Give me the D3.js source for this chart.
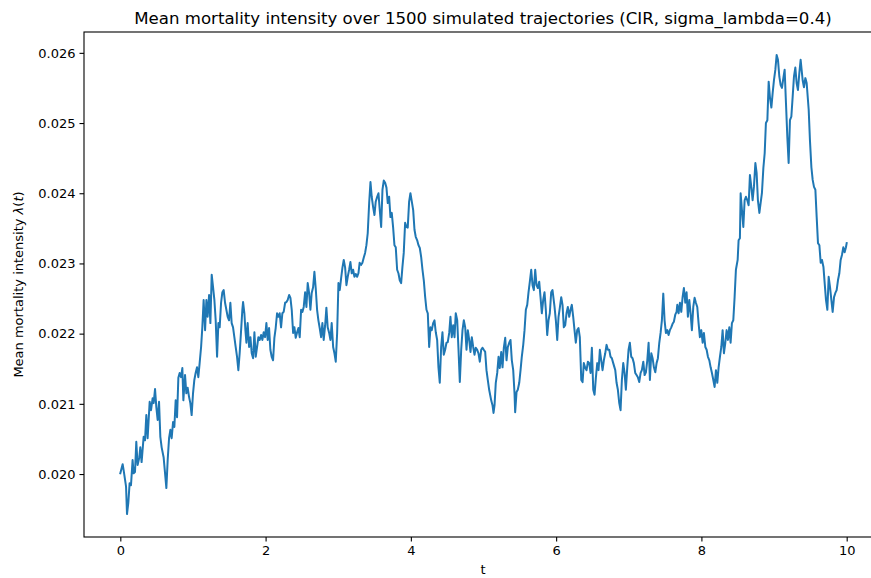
<!DOCTYPE html>
<html>
<head>
<meta charset="utf-8">
<script src="https://cdn.jsdelivr.net/npm/d3@7"></script>
<style>
  body { margin: 0; background: #fff; }
  svg { display: block; font-family: "DejaVu Sans", sans-serif; }
  .tick text { font-size: 13px; fill: #000; }
  .tick line, .domain { stroke: #000; stroke-width: 1.1px; }
</style>
</head>
<body>
<div id="chart"></div>
<script>
// time grid (years)
var tValues = [
  // 0 - 0.8
  0.000,0.032,0.045,0.079,0.092,0.110,0.128,0.147,0.169,0.183,
  0.202,0.220,0.238,0.262,0.275,0.293,0.321,0.340,0.358,0.376,
  0.404,0.423,0.445,0.459,0.478,0.496,0.514,0.533,0.551,0.569,
  0.596,0.616,0.634,0.652,0.671,0.689,0.707,0.726,0.744,0.762,
  0.781,0.799,0.817,
  // 0.8 - 1.7
  0.836,0.854,0.868,0.891,0.909,0.927,0.946,0.964,0.982,1.001,
  1.019,1.037,1.056,1.074,1.092,1.112,1.129,1.147,1.167,1.185,
  1.202,1.222,1.240,1.258,1.277,1.295,1.313,1.332,1.350,1.368,
  1.387,1.405,1.423,1.442,1.460,1.478,1.497,1.515,1.533,1.552,
  1.570,1.588,1.607,1.625,1.643,1.663,1.680,
  // 1.7 - 2.5
  1.690,1.708,1.722,1.736,1.753,1.773,1.791,1.809,1.828,1.846,
  1.864,1.883,1.901,1.919,1.938,1.956,1.974,1.993,2.011,2.029,
  2.048,2.066,2.084,2.103,2.121,2.139,2.158,2.176,2.194,2.213,
  2.231,2.249,2.269,2.287,2.304,2.324,2.342,2.360,2.379,2.397,
  2.415,2.434,2.452,2.470,2.489,2.507,
  // 2.5 - 3.4
  2.525,2.544,2.562,2.580,2.599,2.617,2.635,2.654,2.672,2.690,
  2.709,2.727,2.745,2.764,2.782,2.800,2.820,2.837,2.855,2.875,
  2.893,2.910,2.930,2.948,2.966,2.985,3.003,3.021,3.040,3.058,
  3.076,3.095,3.113,3.131,3.150,3.168,3.186,3.205,3.223,3.241,
  3.260,3.278,3.295,3.316,3.333,3.351,3.370,3.388,
  // 3.4 - 4.2
  3.406,3.426,3.444,3.461,3.481,3.499,3.516,3.536,3.554,3.572,
  3.591,3.609,3.627,3.646,3.664,3.682,3.701,3.719,3.737,3.756,
  3.774,3.792,3.811,3.829,3.847,3.866,3.884,3.902,3.921,3.939,
  3.957,3.976,3.994,4.013,4.032,4.050,4.067,4.087,4.105,4.123,
  4.142,4.160,4.178,4.197,
  // 4.2 - 5.1
  4.215,4.233,4.252,4.270,4.288,4.307,4.325,4.343,4.362,4.380,
  4.398,4.417,4.435,4.453,4.472,4.490,4.508,4.528,4.545,4.563,
  4.583,4.601,4.618,4.638,4.656,4.674,4.693,4.711,4.729,4.748,
  4.766,4.784,4.803,4.821,4.839,4.858,4.876,4.894,4.913,4.931,
  4.949,4.968,4.986,5.004,5.023,5.041,5.059,5.078,
  // 5.1 - 5.95
  5.106,5.124,5.138,5.152,5.169,5.189,5.207,5.224,5.244,5.262,
  5.280,5.299,5.317,5.335,5.354,5.372,5.390,5.409,5.427,5.436,
  5.455,5.472,5.492,5.510,5.527,5.547,5.565,5.583,5.602,5.620,
  5.638,5.657,5.675,5.693,5.712,5.730,5.748,5.767,5.785,5.803,
  5.822,5.840,5.858,5.877,5.895,5.913,5.932,5.950,
  // 5.95 - 6.8
  5.978,5.996,6.015,6.033,6.051,6.070,6.088,6.106,6.125,6.143,
  6.161,6.180,6.198,6.216,6.235,6.253,6.271,6.290,6.308,6.326,
  6.346,6.364,6.381,6.401,6.419,6.437,6.456,6.474,6.492,6.511,
  6.529,6.547,6.566,6.584,6.602,6.621,6.639,6.657,6.676,6.694,
  6.712,6.731,6.749,6.767,6.786,
  // 6.8 - 7.66
  6.814,6.832,6.850,6.869,6.887,6.905,6.924,6.942,6.960,6.979,
  6.997,7.015,7.034,7.052,7.070,7.089,7.107,7.125,7.144,7.163,
  7.180,7.200,7.218,7.236,7.255,7.273,7.291,7.310,7.328,7.346,
  7.365,7.383,7.401,7.420,7.438,7.456,7.475,7.493,7.511,7.530,
  7.548,7.566,7.585,7.603,7.621,7.640,7.658,
  // 7.66 - 8.5
  7.668,7.686,7.704,7.723,7.741,7.759,7.778,7.796,7.814,7.833,
  7.851,7.869,7.888,7.906,7.924,7.943,7.961,7.979,7.998,8.017,
  8.034,8.054,8.072,8.090,8.109,8.127,8.145,8.164,8.182,8.200,
  8.219,8.237,8.255,8.274,8.292,8.310,8.329,8.347,8.365,8.384,
  8.402,8.420,8.439,8.457,8.475,
  // 8.5 - 9.37
  8.499,8.512,8.530,8.540,8.558,8.577,8.595,8.613,8.632,8.650,
  8.668,8.687,8.705,8.723,8.743,8.760,8.778,8.798,8.815,8.833,
  8.853,8.871,8.888,8.908,8.926,8.943,8.963,8.981,8.999,9.018,
  9.036,9.054,9.073,9.091,9.109,9.128,9.146,9.164,9.183,9.201,
  9.219,9.238,9.256,9.274,9.293,9.311,9.329,9.348,9.366,
  // 9.37 - 10
  9.394,9.412,9.431,9.449,9.477,9.494,9.514,9.532,9.550,9.569,
  9.587,9.605,9.624,9.642,9.660,9.680,9.697,9.715,9.734,9.752,
  9.771,9.789,9.807,9.826,9.844,9.862,9.880,9.899,9.917,9.935,
  9.954,9.972,9.990,10.000
];

// mean lambda(t) over the trajectories, same order as tValues
var meanLambda = [
  0.02001,0.02014,0.02006,0.01982,0.01943,0.01959,0.01987,0.01984,0.02020,0.02001,
  0.02003,0.02046,0.02013,0.02024,0.02038,0.02017,0.02053,0.02048,0.02084,0.02051,
  0.02103,0.02091,0.02108,0.02101,0.02121,0.02095,0.02077,0.02103,0.02053,0.02038,
  0.02024,0.02001,0.01980,0.02020,0.02051,0.02063,0.02051,0.02074,0.02067,0.02105,
  0.02081,0.02137,0.02144,

  0.02138,0.02151,0.02105,0.02141,0.02115,0.02123,0.02110,0.02101,0.02084,0.02115,
  0.02134,0.02144,0.02152,0.02138,0.02158,0.02181,0.02209,0.02248,0.02205,0.02248,
  0.02224,0.02255,0.02215,0.02284,0.02266,0.02248,0.02219,0.02167,0.02215,0.02209,
  0.02244,0.02259,0.02262,0.02244,0.02234,0.02224,0.02219,0.02244,0.02215,0.02209,
  0.02195,0.02181,0.02167,0.02148,0.02172,0.02205,0.02234,

  0.02245,0.02229,0.02205,0.02187,0.02215,0.02181,0.02195,0.02172,0.02165,0.02202,
  0.02167,0.02181,0.02195,0.02191,0.02198,0.02191,0.02202,0.02195,0.02215,0.02191,
  0.02208,0.02177,0.02167,0.02162,0.02194,0.02208,0.02229,0.02224,0.02229,0.02209,
  0.02229,0.02231,0.02244,0.02245,0.02248,0.02255,0.02251,0.02234,0.02201,0.02209,
  0.02194,0.02202,0.02208,0.02195,0.02234,0.02231,

  0.02238,0.02259,0.02238,0.02272,0.02258,0.02234,0.02258,0.02266,0.02288,0.02265,
  0.02234,0.02219,0.02208,0.02195,0.02215,0.02191,0.02212,0.02237,0.02209,0.02201,
  0.02191,0.02215,0.02181,0.02172,0.02160,0.02201,0.02272,0.02262,0.02279,0.02294,
  0.02305,0.02294,0.02269,0.02281,0.02291,0.02302,0.02286,0.02291,0.02281,0.02285,
  0.02281,0.02286,0.02301,0.02298,0.02301,0.02308,0.02315,0.02326,

  0.02343,0.02386,0.02416,0.02395,0.02380,0.02369,0.02388,0.02395,0.02400,0.02376,
  0.02352,0.02405,0.02418,0.02415,0.02408,0.02386,0.02395,0.02366,0.02372,0.02351,
  0.02326,0.02323,0.02291,0.02286,0.02276,0.02272,0.02295,0.02315,0.02358,0.02352,
  0.02351,0.02388,0.02400,0.02388,0.02376,0.02348,0.02338,0.02333,0.02326,0.02322,
  0.02309,0.02291,0.02276,0.02252,

  0.02234,0.02229,0.02181,0.02209,0.02205,0.02215,0.02219,0.02202,0.02191,0.02152,
  0.02130,0.02181,0.02202,0.02170,0.02177,0.02187,0.02188,0.02201,0.02224,0.02195,
  0.02212,0.02195,0.02229,0.02219,0.02177,0.02131,0.02177,0.02205,0.02219,0.02209,
  0.02177,0.02205,0.02191,0.02174,0.02195,0.02181,0.02170,0.02180,0.02177,0.02172,
  0.02160,0.02177,0.02180,0.02177,0.02174,0.02148,0.02134,0.02120,

  0.02105,0.02098,0.02087,0.02098,0.02130,0.02144,0.02167,0.02151,0.02174,0.02152,
  0.02180,0.02194,0.02162,0.02181,0.02187,0.02191,0.02162,0.02148,0.02115,0.02088,
  0.02117,0.02120,0.02130,0.02148,0.02167,0.02184,0.02205,0.02234,0.02241,0.02259,
  0.02274,0.02291,0.02269,0.02262,0.02291,0.02269,0.02265,0.02274,0.02252,0.02229,
  0.02248,0.02259,0.02234,0.02198,0.02219,0.02229,0.02259,0.02262,

  0.02238,0.02219,0.02191,0.02224,0.02237,0.02252,0.02241,0.02209,0.02212,0.02229,
  0.02238,0.02224,0.02234,0.02241,0.02224,0.02205,0.02187,0.02205,0.02208,0.02195,
  0.02134,0.02131,0.02158,0.02151,0.02148,0.02160,0.02158,0.02144,0.02180,0.02120,
  0.02113,0.02137,0.02158,0.02148,0.02177,0.02162,0.02148,0.02162,0.02172,0.02184,
  0.02177,0.02177,0.02167,0.02165,0.02158,

  0.02148,0.02130,0.02120,0.02101,0.02091,0.02134,0.02158,0.02144,0.02120,0.02152,
  0.02177,0.02187,0.02167,0.02165,0.02158,0.02144,0.02141,0.02138,0.02131,0.02144,
  0.02148,0.02160,0.02141,0.02145,0.02162,0.02187,0.02134,0.02172,0.02165,0.02152,
  0.02145,0.02158,0.02165,0.02187,0.02201,0.02219,0.02257,0.02219,0.02201,0.02205,
  0.02198,0.02205,0.02209,0.02214,0.02217,0.02227,0.02231,

  0.02241,0.02229,0.02244,0.02231,0.02252,0.02265,0.02244,0.02259,0.02224,0.02248,
  0.02229,0.02205,0.02238,0.02251,0.02244,0.02238,0.02215,0.02195,0.02205,0.02187,
  0.02201,0.02181,0.02177,0.02167,0.02162,0.02152,0.02144,0.02134,0.02124,0.02148,
  0.02130,0.02152,0.02167,0.02181,0.02205,0.02172,0.02187,0.02205,0.02191,0.02209,
  0.02187,0.02215,0.02219,0.02252,0.02291,

  0.02305,0.02333,0.02336,0.02400,0.02376,0.02352,0.02390,0.02395,0.02390,0.02383,
  0.02426,0.02409,0.02390,0.02409,0.02443,0.02429,0.02390,0.02372,0.02386,0.02400,
  0.02436,0.02457,0.02500,0.02504,0.02559,0.02537,0.02522,0.02543,0.02561,0.02576,
  0.02597,0.02590,0.02566,0.02554,0.02550,0.02564,0.02576,0.02529,0.02480,0.02443,
  0.02504,0.02509,0.02537,0.02566,0.02579,0.02557,0.02547,0.02571,0.02590,

  0.02561,0.02551,0.02564,0.02557,0.02519,0.02476,0.02437,0.02419,0.02409,0.02405,
  0.02366,0.02329,0.02326,0.02301,0.02305,0.02295,0.02272,0.02248,0.02234,0.02281,
  0.02266,0.02248,0.02231,0.02252,0.02258,0.02262,0.02276,0.02286,0.02305,0.02312,
  0.02323,0.02316,0.02323,0.02329
];

var xTicks = [0, 2, 4, 6, 8, 10];
var yTicks = [0.020, 0.021, 0.022, 0.023, 0.024, 0.025, 0.026];

var titleText = 'Mean mortality intensity over 1500 simulated trajectories (CIR, sigma_lambda=0.4)';

//Figure size and axes box (right edge sits past the window, as in the picture)
var width = 871, height = 578;
var margin = {left: 84, top: 32, right: 883, bottom: 537};

var svg = d3.select('#chart').append('svg').attr('width', width).attr('height', height);

var data = tValues.map(function(t, i) { return {t: t, v: meanLambda[i]}; });

//matplotlib style 5% margins round the data
var tExt = d3.extent(tValues), vExt = d3.extent(meanLambda);
var tPad = (tExt[1] - tExt[0]) * 0.05, vPad = (vExt[1] - vExt[0]) * 0.05;

var x = d3.scaleLinear().domain([tExt[0] - tPad, tExt[1] + tPad]).range([margin.left, margin.right]);
var y = d3.scaleLinear().domain([vExt[0] - vPad, vExt[1] + vPad]).range([margin.bottom, margin.top]);

svg.append('path').datum(data)
  .attr('fill', 'none')
  .attr('stroke', '#1f77b4')
  .attr('stroke-width', 2)
  .attr('stroke-linejoin', 'round')
  .attr('stroke-linecap', 'square')
  .attr('d', d3.line().x(function(d) { return x(d.t); }).y(function(d) { return y(d.v); }));

//frame
svg.append('rect')
  .attr('x', margin.left).attr('y', margin.top)
  .attr('width', margin.right - margin.left).attr('height', margin.bottom - margin.top)
  .attr('fill', 'none').attr('stroke', '#000').attr('stroke-width', 1.1);

svg.append('g').attr('transform', 'translate(0,' + margin.bottom + ')')
  .call(d3.axisBottom(x).tickValues(xTicks).tickFormat(d3.format('d')).tickSize(4.5).tickSizeOuter(0).tickPadding(4))
  .call(function(g) { g.select('.domain').remove(); })
  .selectAll('text').attr('font-family', 'DejaVu Sans');

svg.append('g').attr('transform', 'translate(' + margin.left + ',0)')
  .call(d3.axisLeft(y).tickValues(yTicks).tickFormat(d3.format('.3f')).tickSize(4.5).tickSizeOuter(0).tickPadding(4))
  .call(function(g) { g.select('.domain').remove(); })
  .selectAll('text').attr('font-family', 'DejaVu Sans');

svg.append('text')
  .attr('x', 483).attr('y', 24)
  .attr('text-anchor', 'middle')
  .attr('font-size', '16.6px')
  .text(titleText);

svg.append('text')
  .attr('x', 483).attr('y', 574)
  .attr('text-anchor', 'middle')
  .attr('font-size', '13px')
  .text('t');

var yl = svg.append('text')
  .attr('transform', 'translate(23,' + ((margin.top + margin.bottom) / 2) + ') rotate(-90)')
  .attr('text-anchor', 'middle')
  .attr('font-size', '13px');
yl.append('tspan').text('Mean mortality intensity ');
yl.append('tspan').attr('font-style', 'italic').text('λ');
yl.append('tspan').text('(');
yl.append('tspan').attr('font-style', 'italic').text('t');
yl.append('tspan').text(')');
</script>
</body>
</html>
